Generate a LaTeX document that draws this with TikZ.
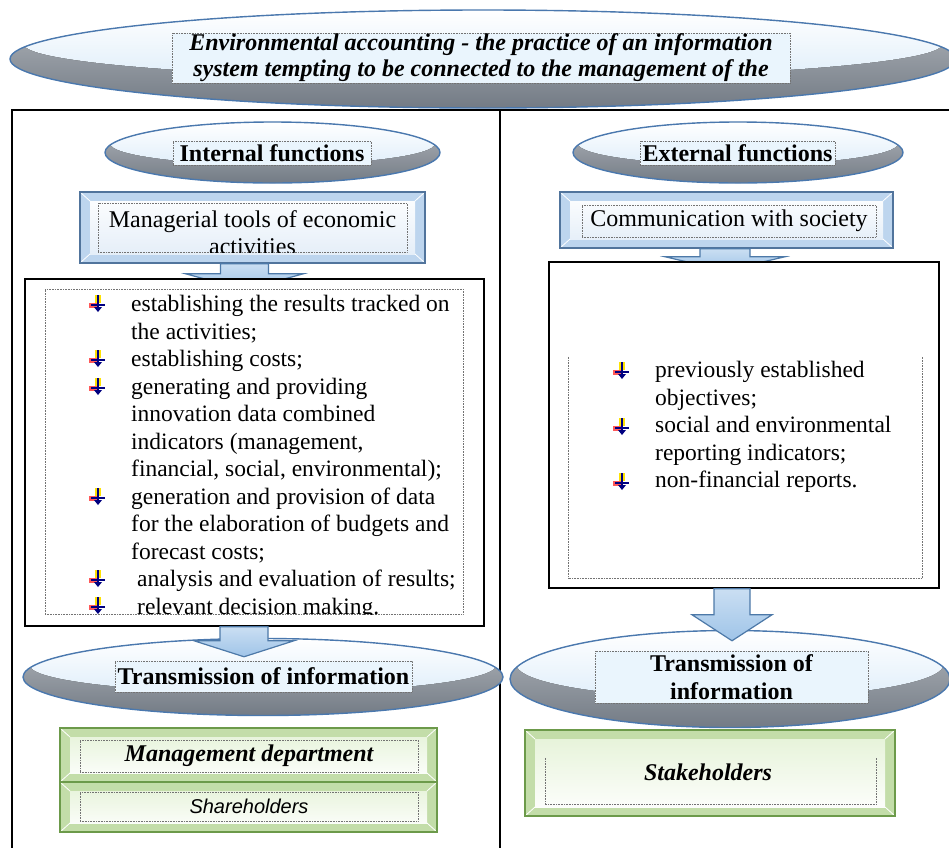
\documentclass[tikz,border=0pt]{standalone}
\usepackage{fontspec}
\setmainfont{Liberation Serif}
\newfontfamily\arialfont{Liberation Sans}
\usetikzlibrary{shapes.geometric,calc}

\definecolor{bubbleline}{HTML}{4A78AE}
\definecolor{bubblegray}{HTML}{737B85}
\definecolor{bubblelight}{HTML}{D3E7F8}
\definecolor{lblfill}{HTML}{EAF5FD}
\definecolor{bevelblue}{HTML}{BDD5EE}
\definecolor{bevelblueline}{HTML}{51749C}
\definecolor{arrowfill}{HTML}{9FC4E8}
\definecolor{arrowline}{HTML}{4D79A8}
\definecolor{bevelgreen}{HTML}{C3DDA9}
\definecolor{bevelgreenline}{HTML}{6C9A4A}
\definecolor{greenlight}{HTML}{E4F2D6}

\tikzset{
  bubble/.style={ellipse, draw=bubbleline, line width=1.4pt, top color=bubblegray!55, bottom color=bubblegray, inner sep=0pt,
    path picture={
      \fill [top color=white, bottom color=bubblelight]
        let \p1 = ($(path picture bounding box.north east)-(path picture bounding box.center)$) in
        ([yshift={0.3*\y1}]path picture bounding box.center) ellipse ({0.97*\x1} and {0.7*\y1});
    }},
  bevel/.style n args={4}{draw=#1, line width=1.5pt, fill=#2, inner sep=0pt,
    path picture={
      \fill [top color=#3, bottom color=#4]
        ([shift={(10pt,-9pt)}]path picture bounding box.north west) rectangle
        ([shift={(-10pt,9pt)}]path picture bounding box.south east);
      \draw [white, line width=0.8pt]
        (path picture bounding box.north west) -- ++(10pt,-9pt)
        (path picture bounding box.north east) -- ++(-10pt,-9pt)
        (path picture bounding box.south west) -- ++(10pt,9pt)
        (path picture bounding box.south east) -- ++(-10pt,9pt);
    }},
  bluebox/.style={bevel={bevelblueline}{bevelblue}{white}{bevelblue!45}},
  greenbox/.style={bevel={bevelgreenline}{bevelgreen}{greenlight}{white}},
  dotline/.style={draw=black!55, densely dotted, line width=0.6pt},
  dotbox/.style={dotline, inner sep=0pt},
  lbl/.style={dotbox, fill=lblfill, align=center, font=\fontsize{24}{27}\selectfont\bfseries},
  blockarrow/.style={draw=arrowline, line width=1.2pt, top color=arrowfill!55, bottom color=arrowfill},
  listbox/.style={draw, line width=1.5pt, fill=white, inner sep=0pt},
  listtext/.style={align=left, inner sep=0pt, font=\fontsize{23.5}{27.5}\selectfont},
  bulletmark/.pic={
    \fill [yellow!85!orange] (-3,-9) rectangle (3,-1);
    \fill [red!65] (-9,-1) rectangle (1,4);
    \draw [blue!50!black, line width=1.6pt] (0,-9) -- (0,4);
    \draw [blue!50!black, line width=1.6pt] (-7,1) -- (7,1);
    \fill [blue!50!black] (-4,3) -- (4,3) -- (0,8) -- cycle;
  }
}

\begin{document}
\begin{tikzpicture}[x=1pt, y=-1pt]
    \useasboundingbox (0,0) rectangle (949,847);
    % outer frame
    \draw [line width=1.6pt] (12,110) rectangle (955,870);
    \draw [line width=1.6pt] (500,110) -- (500,870);
    % title
    \node (topell) [bubble, minimum width=946, minimum height=98] at (483,59) {};
    \node (title) [lbl, font=\fontsize{24}{26}\selectfont\bfseries\itshape, minimum width=618, minimum height=50] at (481,58)
      {\raisebox{-3pt}{Environmental accounting - the practice of an information}\\
       \raisebox{-3pt}{system tempting to be connected to the management of the}};
    % functions
    \node (intell) [bubble, minimum width=335, minimum height=61] at (272.5,152.5) {};
    \node (intlbl) [lbl, minimum width=198, minimum height=24] at (272,153) {Internal functions};
    \node (extell) [bubble, minimum width=330, minimum height=61] at (738,152.5) {};
    \node (extlbl) [lbl, minimum width=195, minimum height=24] at (737.5,153) {External functions};
    \node (mgr) [bluebox, minimum width=345, minimum height=71] at (252.5,227.5) {};
    \node (mgrlbl) [dotbox, minimum width=309, minimum height=49] at (252.5,227.5) {};
    \begin{scope}
      \clip (mgrlbl.north west) rectangle (mgrlbl.south east);
      \node (mgrtxt) [align=center, inner sep=0pt, font=\fontsize{24}{27}\selectfont] at (252.5,233)
        {Managerial tools of economic\\activities};
    \end{scope}
    \node (comm) [bluebox, minimum width=333, minimum height=56] at (726.5,220) {};
    \node (commlbl) [dotbox, minimum width=294, minimum height=32, font=\fontsize{24}{27}\selectfont] at (729,221)
      {Communication with society};
    \draw [blockarrow] ($(mgr.south)+(-32,0)$) -- ++(0,10) -- ++(-35,0) -- ++(59,16) -- ++(59,-16) -- ++(-35,0) -- ++(0,-10) -- cycle;
    \draw [blockarrow] ($(comm.south)+(-26.5,0)$) -- ++(0,8) -- ++(-35,0) -- ++(60,14) -- ++(60,-14) -- ++(-35,0) -- ++(0,-8) -- cycle;
    % internal list
    \node (intbox) [listbox, minimum width=459, minimum height=347] at (254.5,452.5) {};
    \node (intdots) [dotbox, minimum width=418, minimum height=325] at (254,451.5) {};
    \begin{scope}
      \clip (intdots.north west) rectangle (intdots.south east);
      \node (intlist) [listtext, anchor=north west] at (131,295)
        {establishing the results tracked on\\the activities;\\establishing costs;\\generating and providing\\
         innovation data combined\\indicators (management,\\financial, social, environmental);\\
         generation and provision of data\\for the elaboration of budgets and\\forecast costs;\\
         \hspace{6pt}analysis and evaluation of results;\\\hspace{6pt}relevant decision making.};
      \foreach \y in {304,359,387,497,579,606}
        \pic at (98,\y) {bulletmark};
    \end{scope}
    % external list
    \node (extbox) [listbox, minimum width=390, minimum height=326] at (744,425) {};
    \node (extdots) [inner sep=0pt, minimum width=354, minimum height=221] at (745,467.5) {};
    \draw [dotline] (extdots.north west) -- (extdots.south west) -- (extdots.south east) -- (extdots.north east);
    \node (extlist) [listtext, anchor=north west] at (655,361)
      {previously established\\objectives;\\social and environmental\\reporting indicators;\\non-financial reports.};
    \foreach \y in {371,427,482}
      \pic at (622,\y) {bulletmark};
    % transmission
    \node (lefttrans) [bubble, minimum width=480, minimum height=77] at (263,677) {};
    \node (lefttranslbl) [lbl, minimum width=297, minimum height=31] at (263.5,676.5) {Transmission of information};
    \node (righttrans) [bubble, minimum width=440, minimum height=97] at (730,679) {};
    \node (righttranslbl) [lbl, minimum width=273, minimum height=52, font=\fontsize{24}{28}\selectfont\bfseries] at (731.5,677)
      {Transmission of\\information};
    \draw [blockarrow] ($(intbox.south)+(-34.5,0)$) -- ++(0,14) -- ++(-26,0) -- ++(50,16) -- ++(50,-16) -- ++(-26,0) -- ++(0,-14) -- cycle;
    \draw [blockarrow] ($(extbox.south)+(-30,0)$) -- ++(0,26) -- ++(-22,0) -- ++(40,26) -- ++(40,-26) -- ++(-22,0) -- ++(0,-26) -- cycle;
    % receivers
    \node (mgmt) [greenbox, minimum width=377, minimum height=54] at (248.5,755) {};
    \node (mgmtlbl) [dotbox, minimum width=338, minimum height=32, font=\fontsize{24}{27}\selectfont\bfseries\itshape] at (249,756)
      {Management department};
    \node (share) [greenbox, minimum width=377, minimum height=50] at (248.5,807) {};
    \node (sharelbl) [dotbox, minimum width=338, minimum height=29, font=\fontsize{20}{24}\arialfont\itshape] at (249,806.5)
      {Shareholders};
    \node (stake) [greenbox, minimum width=370, minimum height=86] at (710,773) {};
    \node (stakedots) [inner sep=0pt, minimum width=331, minimum height=46] at (710.5,781) {};
    \draw [dotline] (stakedots.north west) -- (stakedots.south west) -- (stakedots.south east) -- (stakedots.north east);
    \node (staketxt) [font=\fontsize{24}{27}\selectfont\bfseries\itshape] at (708,772) {Stakeholders};
\end{tikzpicture}
\end{document}
